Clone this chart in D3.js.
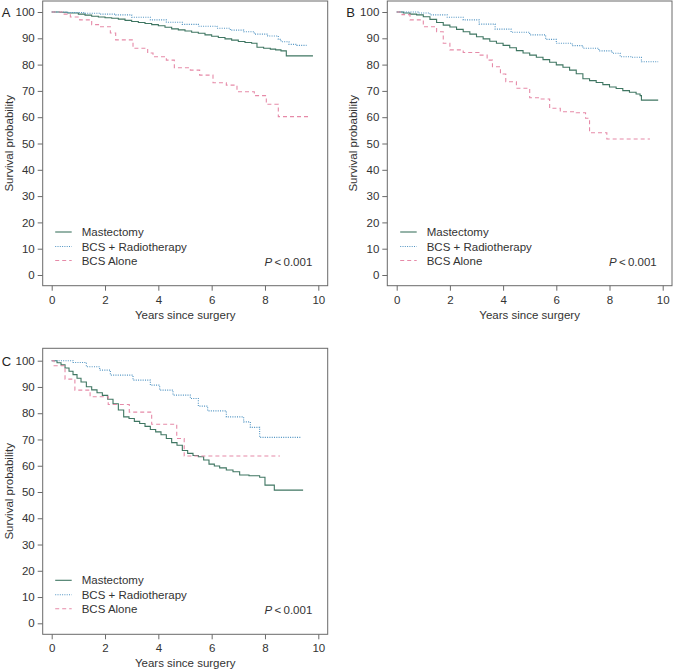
<!DOCTYPE html>
<html><head><meta charset="utf-8">
<script src="https://cdn.jsdelivr.net/npm/d3@7"></script>
<style>
html,body{margin:0;padding:0;background:#fff;}
svg{display:block;font-family:"Liberation Sans",Arial,sans-serif;}
</style></head><body>
<svg id="c" width="673" height="672"></svg>
<script>
const seriesNames = ["Mastectomy", "BCS + Radiotherapy", "BCS Alone"];
const xTicks = [0, 2, 4, 6, 8, 10];
const yTicks = [0, 10, 20, 30, 40, 50, 60, 70, 80, 90, 100];
const panelLabels = ["A", "B", "C"];
const pText = "0.001";

// Panel A
const aMastT = [0,0.3,0.6,1.0,1.25,1.5,1.75,2.0,2.25,2.5,2.75,3.0,3.25,3.5,3.75,4.0,4.25,4.5,4.75,5.0,5.25,5.5,5.75,6.0,6.25,6.5,6.75,7.0,7.25,7.5,7.7,7.95,8.2,8.4,8.6,8.8,9.8];
const aMastS = [100,99.9,99.6,99.2,98.8,98.4,98.1,97.8,97.6,97.3,96.8,96.4,96.0,95.6,95.2,94.8,94.2,93.6,93.2,92.8,92.3,91.9,91.3,90.8,90.3,89.8,89.3,88.8,88.4,88.1,86.6,86.2,85.9,85.6,85.2,83.3,83.3];
const aRadT = [0,0.6,1.2,1.8,2.4,3.0,3.7,4.3,4.9,5.5,6.2,6.7,7.2,7.6,8.1,8.5,8.6,8.9,9.2,9.56];
const aRadS = [100,99.8,99.5,99.2,98.9,98.0,97.0,96.1,95.3,94.6,93.8,93.1,92.5,91.6,90.9,89.6,88.7,87.7,87.3,87.3];
const aAloneT = [0,0.4,0.7,1.05,1.5,1.8,2.2,2.4,3.05,3.6,3.8,4.3,4.6,5.2,5.55,6.05,6.55,6.95,7.6,8.05,8.5,9.62];
const aAloneS = [100,99.2,98.1,97.0,95.2,94.4,92.0,89.4,86.2,84.4,83.0,81.7,78.8,77.9,76.0,73.1,72.2,69.7,68.2,64.9,60.2,60.2];

// Panel B
const bMastT = [0,0.25,0.5,0.75,1.0,1.25,1.5,1.75,2.0,2.25,2.5,2.75,3.0,3.25,3.5,3.75,4.0,4.25,4.5,4.75,5.0,5.25,5.5,5.75,6.0,6.25,6.5,6.75,7.0,7.25,7.5,7.75,8.0,8.25,8.5,8.75,9.0,9.15,9.2,9.83];
const bMastS = [100,99.6,99.2,98.9,98.2,97.2,96.0,95.0,94.3,93.4,92.5,91.6,90.6,89.8,88.9,88.1,87.3,86.4,85.3,84.4,83.6,82.8,81.9,80.9,79.9,79.0,77.9,76.5,74.6,73.9,73.2,72.4,71.5,70.9,70.1,69.5,68.8,68.2,66.5,66.5];
const bRadT = [0,0.8,1.25,1.9,2.5,3.1,3.7,4.3,5.0,5.6,6.0,6.6,7.0,7.6,8.1,8.4,8.8,9.2,9.83];
const bRadS = [100,99.6,98.9,98.0,97.0,95.4,93.5,92.3,91.3,89.6,88.1,87.2,86.2,85.2,84.3,83.0,82.8,81.1,81.1];
const bAloneT = [0,0.2,0.5,1.0,1.5,1.75,2.0,2.5,3.1,3.4,3.6,3.9,4.1,4.5,5.0,5.4,5.75,6.15,6.75,7.1,7.25,7.9,9.52];
const bAloneS = [100,99.0,97.0,94.4,92.5,88.1,85.6,84.6,83.6,81.7,79.2,76.4,73.5,71.0,67.4,66.9,63.4,62.1,61.7,59.6,54.1,51.7,51.7];

// Panel C
const cMastT = [0,0.2,0.35,0.5,0.65,0.8,0.95,1.1,1.3,1.5,1.7,1.9,2.1,2.3,2.5,2.7,2.9,3.1,3.3,3.5,3.7,3.9,4.1,4.3,4.5,4.7,4.9,5.1,5.3,5.5,5.7,5.9,6.1,6.3,6.55,6.8,7.05,7.4,7.8,8.0,8.35,9.43];
const cMastS = [100,99.2,98.4,97.2,96.0,94.7,93.3,91.9,90.1,88.9,87.8,86.8,85.3,83.6,81.2,78.6,78.0,76.9,76.1,75.0,73.8,72.9,71.8,70.4,68.8,67.8,65.8,64.7,63.9,63.4,62.2,60.6,59.9,59.2,58.4,57.7,56.5,56.2,55.6,52.6,50.7,50.7];
const cRadT = [0,0.8,1.3,1.8,2.2,3.05,3.7,4.05,4.55,5.2,5.5,5.85,6.55,7.2,7.45,7.8,9.37];
const cRadS = [100,99.3,97.7,96.4,94.5,92.6,90.7,88.8,86.9,85.6,82.7,80.9,78.6,76.7,74.6,70.8,70.8];
const cAloneT = [0,0.09,0.5,0.87,1.44,2.12,2.91,3.75,4.69,4.97,8.56];
const cAloneS = [100,98.1,93.0,88.8,86.3,83.3,80.4,75.8,70.4,63.7,63.7];

const styles = [
  {color:"#3f7662", dash:null, width:1.1},
  {color:"#4f93c2", dash:"1,1.3", width:1.1},
  {color:"#e68aa8", dash:"4,3", width:1.1}
];

const panels = [
  {label:panelLabels[0], box:[42.7,1,327.7,285.7], x0:51.7, x10:318.3, y0:275, y100:12,
   series:[[aMastT,aMastS],[aRadT,aRadS],[aAloneT,aAloneS]]},
  {label:panelLabels[1], box:[387.3,1,672,285.7], x0:396.7, x10:662.7, y0:275, y100:12,
   series:[[bMastT,bMastS],[bRadT,bRadS],[bAloneT,bAloneS]]},
  {label:panelLabels[2], box:[42.7,348.3,327.7,634.3], x0:51.7, x10:318.3, y0:623.3, y100:360.7,
   series:[[cMastT,cMastS],[cRadT,cRadS],[cAloneT,cAloneS]]}
];

const svg = d3.select("#c");
const axisCol = "#6a6a6a", textCol = "#333";

panels.forEach(p => {
  const [bx0, by0, bx1, by1] = p.box;
  const x = d3.scaleLinear().domain([0,10]).range([p.x0, p.x10]);
  const y = d3.scaleLinear().domain([0,100]).range([p.y0, p.y100]);
  const g = svg.append("g");

  g.append("rect").attr("x",bx0).attr("y",by0).attr("width",bx1-bx0).attr("height",by1-by0)
    .attr("fill","none").attr("stroke",axisCol).attr("stroke-width",1);

  const ya = g.append("g").attr("transform",`translate(${bx0},0)`)
    .call(d3.axisLeft(y).tickValues(yTicks).tickSize(5).tickPadding(3).tickFormat(d3.format("d")));
  ya.select(".domain").remove();
  ya.selectAll("line").attr("stroke",axisCol);
  ya.selectAll("text").attr("fill",textCol).style("font-size","11.5px").style("font-family","Liberation Sans, Arial, sans-serif");

  const xa = g.append("g").attr("transform",`translate(0,${by1})`)
    .call(d3.axisBottom(x).tickValues(xTicks).tickSize(5).tickPadding(5).tickFormat(d3.format("d")));
  xa.select(".domain").remove();
  xa.selectAll("line").attr("stroke",axisCol);
  xa.selectAll("text").attr("fill",textCol).style("font-size","11.5px").style("font-family","Liberation Sans, Arial, sans-serif");

  g.append("text").attr("x",(bx0+bx1)/2).attr("y",by1+33).attr("text-anchor","middle")
    .attr("fill",textCol).style("font-size","11.5px").text("Years since surgery");
  g.append("text").attr("transform",`translate(${bx0-30},${(by0+by1)/2}) rotate(-90)`)
    .attr("text-anchor","middle").attr("fill",textCol).style("font-size","11.5px").text("Survival probability");

  g.append("text").attr("x",bx0-41).attr("y",p.y100+5).attr("fill","#222")
    .style("font-size","13px").text(p.label);

  const line = d3.line().x(d=>x(d[0])).y(d=>y(d[1])).curve(d3.curveStepAfter);
  p.series.forEach((s,i) => {
    const pts = s[0].map((t,k)=>[t, s[1][k]]);
    g.append("path").datum(pts).attr("d",line).attr("fill","none")
      .attr("stroke",styles[i].color).attr("stroke-width",styles[i].width)
      .attr("stroke-dasharray",styles[i].dash);
  });

  const legOff = [43, 28.5, 14.5];
  seriesNames.forEach((n,i) => {
    const ly = p.y0 - legOff[i];
    g.append("line").attr("x1",p.x0+3.5).attr("x2",p.x0+20).attr("y1",ly).attr("y2",ly)
      .attr("stroke",styles[i].color).attr("stroke-width",styles[i].width)
      .attr("stroke-dasharray",styles[i].dash);
    g.append("text").attr("x",p.x0+30).attr("y",ly+4).attr("fill",textCol)
      .style("font-size","11.5px").text(n);
  });

  const pt = g.append("text").attr("x",x(10)-6).attr("y",p.y0-9).attr("text-anchor","end")
    .attr("fill",textCol).style("font-size","11.5px");
  pt.append("tspan").style("font-style","italic").text("P");
  pt.append("tspan").text("\u2009<\u2009" + pText);
});
</script>
</body></html>
